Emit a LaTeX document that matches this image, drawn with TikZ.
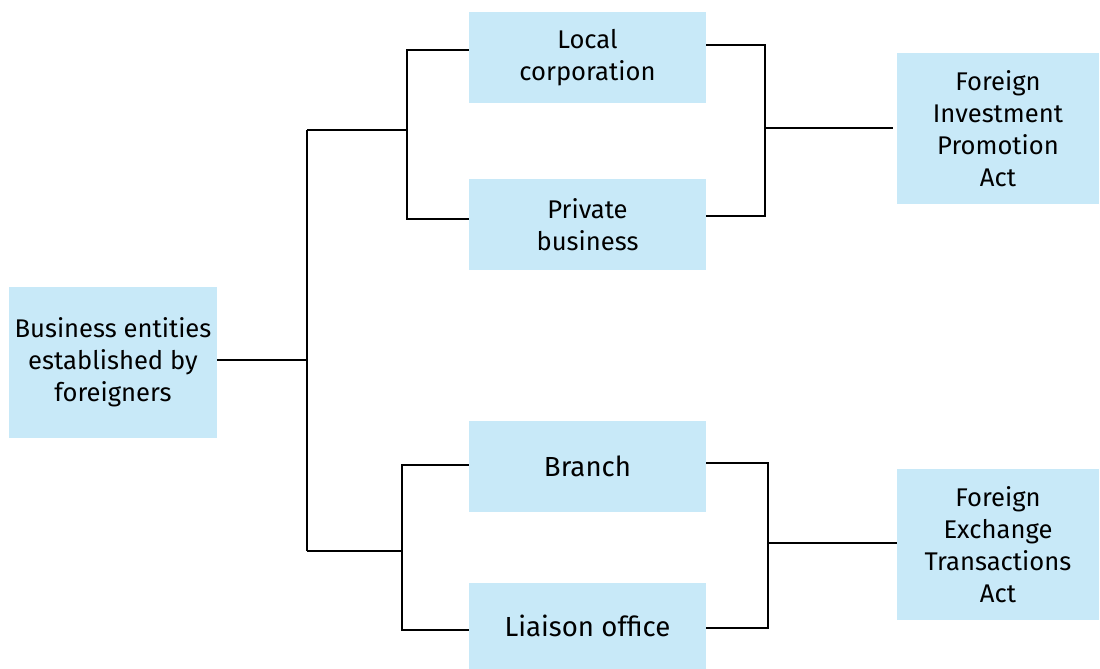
\documentclass[tikz,border=0pt]{standalone}
\usepackage{fontspec}
\setmainfont{Fira Sans}
\usepackage{tikz}
\usetikzlibrary{positioning,calc}
\definecolor{BoxBlue}{HTML}{C8E9F8}

\begin{document}
\begin{tikzpicture}[
    x=0.5pt, y=-0.5pt,
    box/.style={fill=BoxBlue, inner sep=0pt, align=center,
      font=\fontsize{12.8}{16}\selectfont},
    bigbox/.style={box, minimum width=104pt, minimum height=75.5pt},
    midbox/.style={box, minimum width=118.5pt, minimum height=45.5pt},
    sidebox/.style={box, minimum width=101pt, minimum height=75.5pt},
    link/.style={line width=0.7pt, draw=black}
  ]
    \useasboundingbox (0,0) rectangle (1100,669);
    % boxes
    \node[bigbox] (bus) at (113,362.5) {Business entities\\established by\\foreigners};
    \node[midbox] (local) at (587.5,57.5) {Local\\corporation};
    \node[midbox] (private) at (587.5,224.5) {Private\\business};
    \node[midbox, font=\fontsize{13.8}{16}\selectfont] (branch) at (587.5,466.5) {Branch};
    \node[midbox, minimum height=43.5pt, font=\fontsize{13.8}{16}\selectfont] (liaison) at (587.5,626) {Liaison office};
    \node[sidebox] (fipa) at (998,128.5) {Foreign\\Investment\\Promotion\\Act};
    \node[sidebox] (feta) at (998,544.5) {Foreign\\Exchange\\Transactions\\Act};
    % junctions
    \coordinate (jbus) at (307,360);
    \coordinate (jtop) at (407,130);
    \coordinate (jbot) at (402,551);
    \coordinate (rtop) at (765,128);
    \coordinate (rbot) at (768,543);
    % left tree
    \draw[link] (bus.east |- jbus) -- (jbus);
    \draw[link] (jbus |- jtop) -- (jtop);
    \draw[link] (jbus |- jbot) -- (jbot);
    \draw[link] (jbus |- jtop) -- (jbus |- jbot);
    \draw[link] (local.west |- 0,50) -| (jtop) |- (private.west |- 0,219);
    \draw[link] (branch.west |- 0,465) -| (jbot) |- (liaison.west |- 0,630);
    % right tree
    \draw[link] (local.east |- 0,45) -| (rtop) |- (private.east |- 0,216);
    \draw[link] (rtop) -- ($(fipa.west |- rtop)+(-4,0)$);
    \draw[link] (branch.east |- 0,463) -| (rbot) |- (liaison.east |- 0,628);
    \draw[link] (rbot) -- (feta.west |- rbot);
  \end{tikzpicture}
\end{document}
